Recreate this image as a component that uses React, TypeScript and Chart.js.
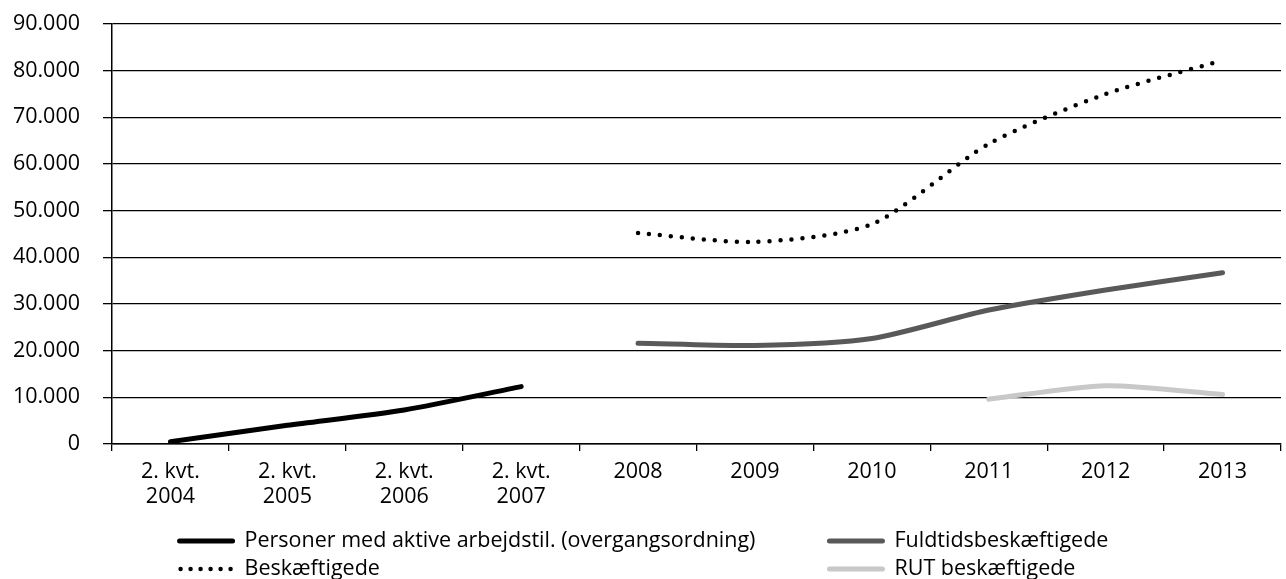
import React, { useEffect, useRef } from "react";
import { Chart, registerables } from "chart.js";

Chart.register(...registerables);

const categories: (string | string[])[] = [
  ["2. kvt.", "2004"],
  ["2. kvt.", "2005"],
  ["2. kvt.", "2006"],
  ["2. kvt.", "2007"],
  "2008",
  "2009",
  "2010",
  "2011",
  "2012",
  "2013",
];

const personer = [500, 4000, 7300, 12300, null, null, null, null, null, null];
const fuldtids = [null, null, null, null, 21600, 21100, 22600, 28700, 33000, 36700];
const beskaeftigede = [null, null, null, null, 45200, 43300, 47100, 64300, 75000, 82200];
const rut = [null, null, null, null, null, null, null, 9600, 12500, 10600];

const yTickLabels = ["0", "10.000", "20.000", "30.000", "40.000", "50.000", "60.000", "70.000", "80.000", "90.000"];

const FONT = "'Open Sans', 'Noto Sans', sans-serif";
const FONT_SIZE = 21.5;

const legendPlugin = {
  id: "gridLegend",
  afterDraw(chart: any) {
    const ctx = chart.ctx as CanvasRenderingContext2D;
    const ds = chart.data.datasets;
    ctx.save();
    ctx.font = `${FONT_SIZE}px ${FONT}`;
    const sample = 57;
    const gapText = 10;
    const colGap = 72;
    const cols = [
      [ds[0], ds[2]],
      [ds[1], ds[3]],
    ];
    const colWidths = cols.map(
      (c) => sample + gapText + Math.max(...c.map((d: any) => ctx.measureText(d.label).width))
    );
    const total = colWidths[0] + colGap + colWidths[1];
    let x0 = (chart.width - total) / 2;
    const rows = [541, 569];
    cols.forEach((c, ci) => {
      c.forEach((d: any, ri: number) => {
        const y = rows[ri];
        ctx.save();
        ctx.strokeStyle = d.borderColor;
        ctx.lineWidth = d.borderWidth;
        ctx.lineCap = d.borderCapStyle || "butt";
        const dashed = d.borderDash && d.borderDash.length;
        if (dashed) ctx.setLineDash([0, 10]);
        ctx.beginPath();
        ctx.moveTo(x0 + (dashed ? 3 : 2), y);
        ctx.lineTo(x0 + sample - 2, y);
        ctx.stroke();
        ctx.restore();
        ctx.fillStyle = "#000";
        ctx.textBaseline = "middle";
        ctx.textAlign = "left";
        ctx.fillText(d.label, x0 + sample + gapText, y);
      });
      x0 += colWidths[ci] + colGap;
    });
    ctx.restore();
  },
};

export default function App() {
  const ref = useRef<HTMLCanvasElement | null>(null);
  useEffect(() => {
    if (!ref.current) return;
    const chart = new Chart(ref.current, {
      type: "line",
      data: {
        labels: categories,
        datasets: [
          {
            label: "Personer med aktive arbejdstil. (overgangsordning)",
            data: personer,
            borderColor: "#000000",
            borderWidth: 5,
            tension: 0.25,
            pointRadius: 0,
            borderCapStyle: "round",
          },
          {
            label: "Fuldtidsbeskæftigede",
            data: fuldtids,
            borderColor: "#595959",
            borderWidth: 5,
            tension: 0.25,
            pointRadius: 0,
            borderCapStyle: "round",
          },
          {
            label: "Beskæftigede",
            data: beskaeftigede,
            borderColor: "#000000",
            borderWidth: 4.5,
            borderDash: [0, 11],
            borderCapStyle: "round",
            tension: 0.25,
            pointRadius: 0,
          },
          {
            label: "RUT beskæftigede",
            data: rut,
            borderColor: "#c8c8c8",
            borderWidth: 5,
            tension: 0.25,
            pointRadius: 0,
            borderCapStyle: "round",
          },
        ] as any,
      },
      options: {
        animation: false,
        responsive: true,
        maintainAspectRatio: false,
        layout: { padding: { top: 24, right: 5, left: 0, bottom: 60 } },
        plugins: {
          legend: { display: false },
          tooltip: { enabled: false },
        },
        scales: {
          x: {
            offset: true,
            grid: {
              offset: true,
              drawOnChartArea: false,
              drawTicks: true,
              tickLength: 7,
              color: "#000",
              lineWidth: 1.3,
            },
            border: { color: "#000", width: 1.5 },
            ticks: {
              color: "#000",
              font: { family: FONT, size: FONT_SIZE, lineHeight: 25 / FONT_SIZE },
              padding: 8.5,
              maxRotation: 0,
              autoSkip: false,
            },
            afterFit: (scale: any) => {
              scale.height = 75;
              scale.paddingLeft = 0;
              scale.paddingRight = 0;
            },
          },
          y: {
            min: 0,
            max: 90000,
            grid: {
              color: "#000",
              lineWidth: 1.3,
              tickLength: 9,
            },
            border: { color: "#000", width: 1.5 },
            ticks: {
              stepSize: 10000,
              color: "#000",
              font: { family: FONT, size: FONT_SIZE },
              padding: 23,
              callback: (_v: any, i: number) => yTickLabels[i],
            },
            afterFit: (scale: any) => {
              scale.width = 112;
              scale.paddingTop = 0;
              scale.paddingBottom = 0;
            },
          },
        },
      },
      plugins: [legendPlugin],
    });
    return () => chart.destroy();
  }, []);
  return (
    <div style={{ position: "absolute", left: 0, top: 0, width: 1286, height: 579 }}>
      <canvas ref={ref} />
    </div>
  );
}
